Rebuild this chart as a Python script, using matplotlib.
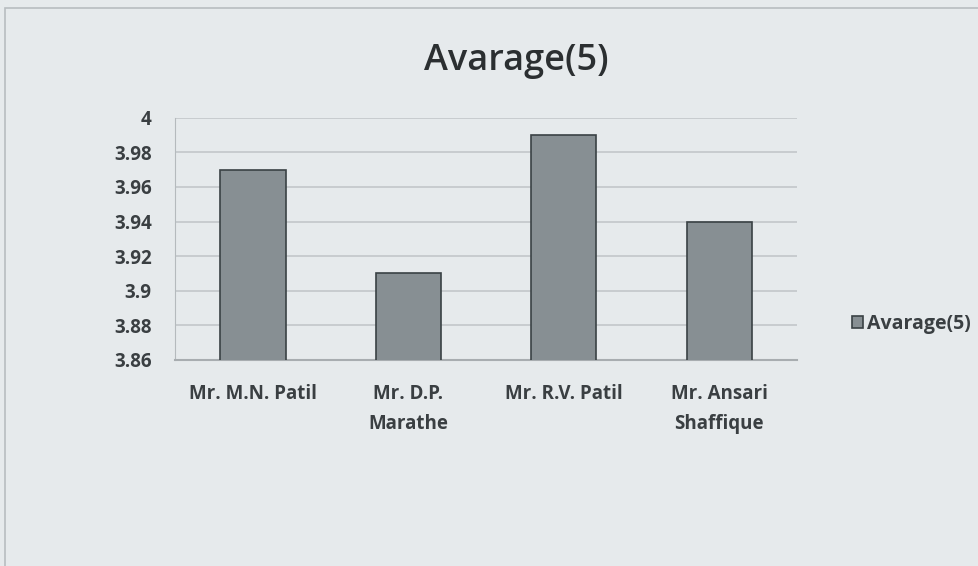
import matplotlib
matplotlib.use("Agg")
import matplotlib.pyplot as plt
import numpy as np

# data
names = ["Mr. M.N. Patil", "Mr. D.P.\nMarathe", "Mr. R.V. Patil", "Mr. Ansari\nShaffique"]
avg5 = [3.97, 3.91, 3.99, 3.94]
yticks = [3.86, 3.88, 3.9, 3.92, 3.94, 3.96, 3.98, 4]
ytick_labels = ["3.86", "3.88", "3.9", "3.92", "3.94", "3.96", "3.98", "4"]

plt.rcParams['font.family'] = ['Open Sans', 'DejaVu Sans']

bg = '#e6eaec'
fig = plt.figure(figsize=(9.79, 5.66), dpi=100, facecolor=bg)
ax = fig.add_axes([0.179, 0.364, 0.635, 0.428])
ax.set_facecolor(bg)

x = np.arange(len(names))
ax.bar(x, avg5, width=0.42, color='#878f93', edgecolor='#3a4144', linewidth=1.2,
       label="Avarage(5)", zorder=3)

ax.set_ylim(3.86, 4.0)
ax.set_xlim(-0.5, len(names) - 0.5)
ax.set_yticks(yticks)
ax.set_yticklabels(ytick_labels)
ax.set_xticks(x)
ax.set_xticklabels(names, linespacing=1.7)
ax.tick_params(axis='both', length=0, labelsize=13.5, colors='#3a3f42', width=0)
ax.tick_params(axis='y', pad=17)
ax.tick_params(axis='x', pad=17)
for lbl in ax.get_xticklabels() + ax.get_yticklabels():
    lbl.set_fontweight('bold')

ax.yaxis.grid(True, color='#c2c7ca', linewidth=1.2, zorder=0)
for s in ['top', 'right']:
    ax.spines[s].set_visible(False)
ax.spines['left'].set_color('#b5babd')
ax.spines['bottom'].set_color('#a8adb0')
ax.spines['bottom'].set_linewidth(1.5)

fig.text(0.527, 0.893, "Avarage(5)", ha='center', va='center', fontsize=26,
         color='#2b2f31', fontweight='semibold')

ax.legend(loc='center left', bbox_to_anchor=(1.06, 0.15), frameon=False,
          prop={'size': 14, 'weight': 'bold'}, handlelength=0.6, handleheight=0.6,
          handletextpad=0.2, labelcolor='#3a3f42')

# chart border
fig.patches.append(plt.Rectangle((0.005, -0.1), 1.2, 1.085, transform=fig.transFigure,
                                 fill=False, edgecolor='#b8bdc0', linewidth=1.2))

fig.savefig("out.png", dpi=100, facecolor=bg)
